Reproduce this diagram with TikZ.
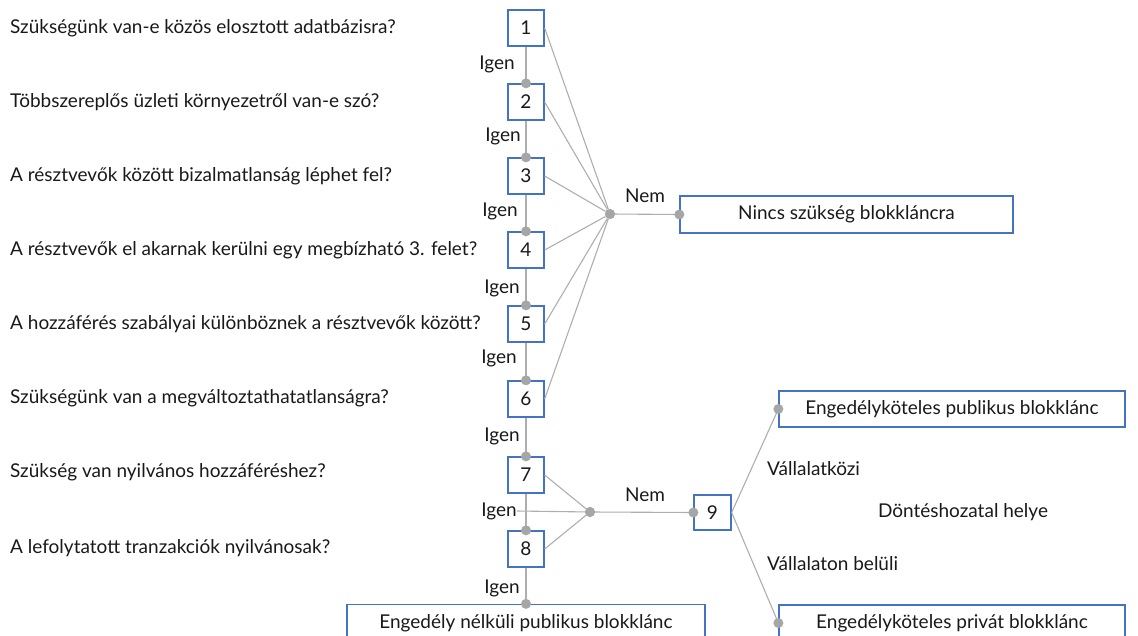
\documentclass[tikz,border=0pt]{standalone}
\usepackage{fontspec}
\setmainfont{Lato}
\definecolor{boxblue}{HTML}{4472C4}
\definecolor{lgray}{HTML}{AEAEAE}
\definecolor{dgray}{HTML}{A6A6A6}
\begin{document}
\begin{tikzpicture}[x=1pt,y=-1pt,
  every node/.style={font=\fontsize{19}{22}\selectfont, text=black!90},
  q/.style={anchor=west, inner sep=0pt},
  num/.style={draw=boxblue, line width=1.3pt, minimum width=36pt, minimum height=36pt, inner sep=0pt},
  res/.style={draw=boxblue, line width=1.3pt, minimum height=37pt, inner sep=0pt},
  ln/.style={draw=lgray, line width=1.1pt},
  dot/.style={circle, fill=dgray, inner sep=0pt, minimum size=10pt},
  lab/.style={inner sep=1pt}]
\useasboundingbox (0,0) rectangle (1138,636);
\clip (0,0) rectangle (1138,636);
% questions
\node[q] (q1) at (10,28) {Szükségünk van-e közös elosztott adatbázisra?};
\node[q] (q2) at (10,102) {Többszereplős üzleti környezetről van-e szó?};
\node[q] (q3) at (10,176) {A résztvevők között bizalmatlanság léphet fel?};
\node[q] (q4) at (10,250) {A résztvevők el akarnak kerülni egy megbízható 3. felet?};
\node[q] (q5) at (10,324) {A hozzáférés szabályai különböznek a résztvevők között?};
\node[q] (q6) at (10,398) {Szükségünk van a megváltoztathatatlanságra?};
\node[q] (q7) at (10,472) {Szükség van nyilvános hozzáféréshez?};
\node[q] (q8) at (10,548) {A lefolytatott tranzakciók nyilvánosak?};
% number boxes
\node[num] (b1) at (526,28) {1};
\node[num] (b2) at (526,102) {2};
\node[num] (b3) at (526,176) {3};
\node[num] (b4) at (526,250) {4};
\node[num] (b5) at (526,324) {5};
\node[num] (b6) at (526,399) {6};
\node[num] (b7) at (526,475) {7};
\node[num] (b8) at (526,549) {8};
% result boxes
\node[res, minimum width=333pt] (r1) at (846.5,214.5) {Nincs szükség blokkláncra};
\node[res, minimum width=358pt] (r2) at (526,623) {Engedély nélküli publikus blokklánc};
\node[num, minimum width=37pt, minimum height=35pt] (b9) at (712.5,512.5) {9};
\node[res, minimum width=346pt, minimum height=36pt] (r3) at (952,409) {Engedélyköteles publikus blokklánc};
\node[res, minimum width=346pt, minimum height=36pt] (r4) at (952,623) {Engedélyköteles privát blokklánc};
% Igen labels
\node[lab] (i1) at (497,64) {Igen};
\node[lab] (i2) at (503,136) {Igen};
\node[lab] (i3) at (500,211) {Igen};
\node[lab] (i4) at (502,288) {Igen};
\node[lab] (i5) at (499,358) {Igen};
\node[lab] (i6) at (502,436) {Igen};
\node[lab, inner sep=0pt] (i7) at (499,511) {Igen};
\node[lab] (i8) at (502,588) {Igen};
% hubs
\node[dot] (h1) at (610,214) {};
\node[dot] (h2) at (590,512) {};
\node[lab] (n1) at (645,196) {Nem};
\node[lab] (n2) at (645,495) {Nem};
\node[lab, anchor=west] (v1) at (766,469) {Vállalatközi};
\node[lab, anchor=west] (v2) at (766,564) {Vállalaton belüli};
\node[lab] (dh) at (963,512) {Döntéshozatal helye};
% vertical connectors
\foreach \a/\b in {b1/b2,b2/b3,b3/b4,b4/b5,b5/b6,b6/b7,b7/b8,b8/r2}{
  \draw[ln] (\a.south) -- (\b.north);
}
% to hub 1
\foreach \a in {b1,b2,b3,b4,b5,b6}{
  \draw[ln] (\a.east) -- (h1);
}
\draw[ln] (h1) -- (r1.west);
% to hub 2
\draw[ln] (b7.east) -- (h2);
\draw[ln] (b8.east) -- (h2);
\draw[ln] (i7.east) -- (h2);
\draw[ln] (h2) -- (b9.west);
\draw[ln] (b9.east) -- (r3.west);
\draw[ln] (b9.east) -- (r4.west);
% dots
\foreach \a in {b2,b3,b4,b5,b6,b7,b8,r2}{
  \node[dot] at (\a.north) {};
}
\node[dot] at (r1.west) {};
\node[dot] at (b9.west) {};
\node[dot] at (r3.west) {};
\node[dot] at (r4.west) {};
\node[dot] at (h1) {};
\node[dot] at (h2) {};
\end{tikzpicture}
\end{document}
